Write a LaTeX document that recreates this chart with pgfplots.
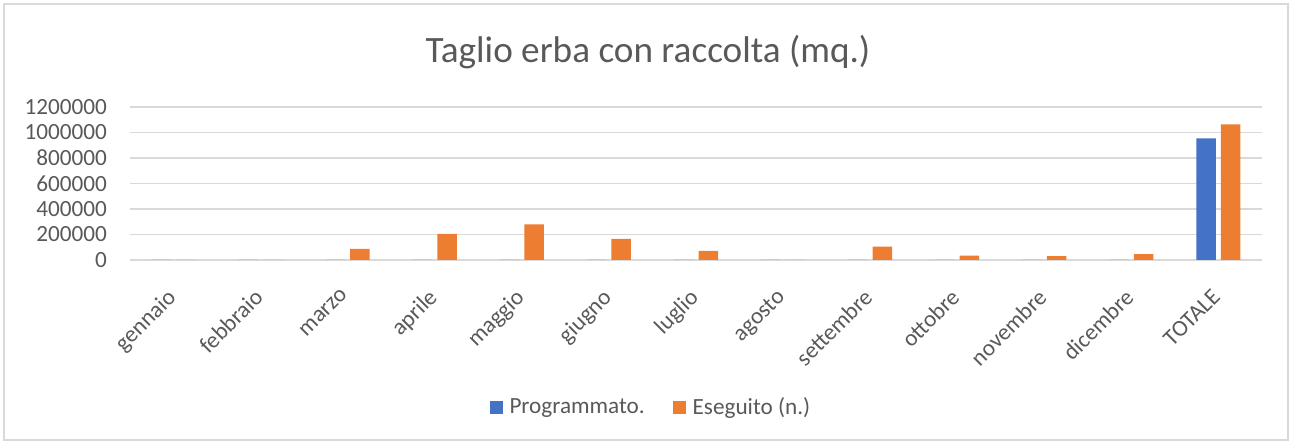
\documentclass[border=0pt]{standalone}
\usepackage{fontspec}
\setmainfont{Carlito}
\usepackage{pgfplots}
\pgfplotsset{compat=1.18}
\definecolor{progblue}{HTML}{4472C4}
\definecolor{eseorange}{HTML}{ED7D31}
\definecolor{gridgray}{HTML}{D9D9D9}
\definecolor{txtgray}{HTML}{595959}
\begin{document}
\begin{tikzpicture}
  % page = 1292x444 px at 0.5pt per px, axis origin at plot lower-left (130,260)
  \useasboundingbox (-65pt,-92pt) rectangle (581pt,130pt);
  \draw[gridgray, line width=0.6pt] (-63pt,-90pt) rectangle (579pt,128pt);
  \begin{axis}[
    at={(0pt,0pt)}, anchor=south west,
    scale only axis, width=566pt, height=76.5pt,
    ybar=2.5pt, bar width=9.75pt,
    xmin=-0.5, xmax=12.5, ymin=0, ymax=1200000,
    xtick=data,
    xticklabels={gennaio,febbraio,marzo,aprile,maggio,giugno,luglio,agosto,
                 settembre,ottobre,novembre,dicembre,TOTALE},
    ytick={0,200000,400000,600000,800000,1000000,1200000},
    scaled y ticks=false,
    yticklabel style={/pgf/number format/fixed, /pgf/number format/precision=0,
                      /pgf/number format/1000 sep={},
                      /pgf/number format/assume math mode=true},
    major tick length=0pt,
    axis x line*=bottom, axis y line*=left,
    y axis line style={draw=none},
    x axis line style={draw=gridgray, line width=0.6pt},
    ymajorgrids=true,
    grid style={draw=gridgray, line width=0.6pt},
    tick label style={font=\fontsize{11.6pt}{13pt}\selectfont, text=txtgray},
    x tick label style={rotate=45, anchor=north east, xshift=-9pt, yshift=-3.5pt},
    y tick label style={xshift=-8pt},
    title={Taglio erba con raccolta (mq.)},
    title style={at={(0.4576,1)}, anchor=center, yshift=21.5pt,
                 font=\fontsize{18.6pt}{22pt}\selectfont, text=txtgray},
    legend style={at={(0.461,0)}, anchor=center, yshift=-74pt, draw=none,
                  legend columns=2, font=\fontsize{11.6pt}{13pt}\selectfont,
                  text=txtgray, /tikz/every even column/.append style={column sep=12pt},
                  /tikz/every odd column/.append style={column sep=1.5pt}},
    legend image code/.code={\fill[#1] (0pt,-3.25pt) rectangle (6.5pt,3.25pt);},
  ]
    \addplot[fill=progblue, draw=none] coordinates {
      (0,0) (1,0) (2,0) (3,0) (4,0) (5,0) (6,0) (7,0) (8,0) (9,0) (10,0) (11,0) (12,954000)
    };
    \addplot[fill=eseorange, draw=none] coordinates {
      (0,0) (1,0) (2,87000) (3,204000) (4,280000) (5,165000) (6,71000) (7,0)
      (8,105000) (9,34000) (10,30000) (11,47000) (12,1064000)
    };
    \legend{Programmato., Eseguito (n.)}
  \end{axis}
\end{tikzpicture}
\end{document}
